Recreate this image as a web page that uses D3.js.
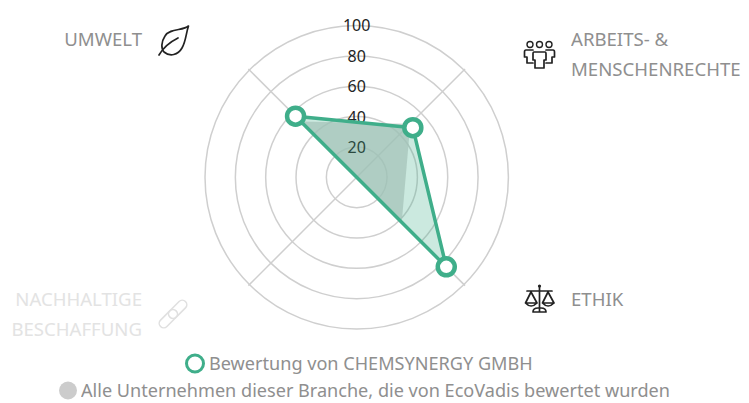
<!DOCTYPE html>
<html><head><meta charset="utf-8">
<script src="https://cdnjs.cloudflare.com/ajax/libs/d3/7.8.5/d3.min.js"></script>
<style>html,body{margin:0;padding:0;background:#fff}svg{display:block}text{font-family:"Noto Sans",sans-serif;opacity:.99}</style>
</head><body><div id="c"></div>
<script>
const categories=["ARBEITS","ETHIK","NACHHALTIGE BESCHAFFUNG","UMWELT"];
const axisAngles=[45,135,225,315];
const companyAngles=[48.5,135,225,315];
const companyValues=[49.4,83.5,0,57];
const industryValues=[50,42,0,52];
const radialTicks=[20,40,60,80,100];
const seriesNames=["Bewertung von CHEMSYNERGY GMBH","Alle Unternehmen dieser Branche, die von EcoVadis bewertet wurden"];
const GREEN="#3fae8a",GRID="#cfcfcf",TXT="#8e8e8e";
const svg=d3.select("#c").append("svg").attr("width",749).attr("height",403);
const g=svg.append("g").attr("transform","translate(356.7,177.3)");
const r=d3.scaleLinear().domain([0,100]).range([0,151.7]);
const rad=d=>d*Math.PI/180;
const pt=(v,a)=>[r(v)*Math.sin(rad(a)),-r(v)*Math.cos(rad(a))];
g.selectAll("circle.grid").data(radialTicks).join("circle").attr("r",d=>r(d)).attr("fill","none").attr("stroke",GRID).attr("stroke-width",1.5);
g.selectAll("line.spoke").data(axisAngles).join("line").attr("x1",0).attr("y1",0)
 .attr("x2",a=>pt(101,a)[0]).attr("y2",a=>pt(101,a)[1]).attr("stroke",GRID).attr("stroke-width",1.5);
const line=d3.line().curve(d3.curveLinearClosed);
g.append("path").attr("d",line(industryValues.map((v,i)=>pt(v,axisAngles[i])))).attr("fill","#ccc").attr("fill-opacity",.75);
g.selectAll("text.tick").data(radialTicks).join("text").attr("text-anchor","middle").attr("x",0)
 .attr("y",d=>-r(d)+(d===100?5.5:6)).attr("font-size",16).attr("fill","#222").text(d=>d);
const cp=companyValues.map((v,i)=>pt(v,companyAngles[i]));
g.append("path").attr("d",line(cp)).attr("fill",GREEN).attr("fill-opacity",.27).attr("stroke",GREEN).attr("stroke-width",3.5).attr("stroke-linejoin","round");
g.selectAll("circle.pt").data(cp.filter((d,i)=>companyValues[i]>0)).join("circle").attr("cx",d=>d[0]).attr("cy",d=>d[1]).attr("r",8.5).attr("fill","#fff").attr("stroke",GREEN).attr("stroke-width",4.5);
// axis labels
const lab=(x,y,t,anchor,fill,fs)=>svg.append("text").attr("x",x).attr("y",y).attr("text-anchor",anchor).attr("font-size",fs||18.6).attr("fill",fill).text(t);
lab(142,46,"UMWELT","end",TXT);
lab(571,46,"ARBEITS- &","start",TXT);
lab(571,76,"MENSCHENRECHTE","start",TXT);
lab(571,306,"ETHIK","start",TXT);
lab(142,306,"NACHHALTIGE","end","#e3e3e3");
lab(142,336,"BESCHAFFUNG","end","#e3e3e3");
// icons
const ic=(d,c)=>svg.append("path").attr("d",d).attr("fill","none").attr("stroke",c||"#222").attr("stroke-width",1.7).attr("stroke-linecap","round").attr("stroke-linejoin","round");
ic("M188.5,26C183,31 170,28 165,36C161,42 161,49 164,52C170,57 178,55 182,48C186,41 186,33 188.5,26ZM159,55C163,48 170,42 178,38");
// people
const cc=(x,y,rr)=>svg.append("circle").attr("cx",x).attr("cy",y).attr("r",rr).attr("fill","none").attr("stroke","#222").attr("stroke-width",1.4);
cc(530,44.5,3);cc(539.5,44.5,3);cc(549,44.5,3);
ic("M534,52H545Q546,52 546,54V60H544V68H535V60H533V54Q533,52 534,52ZM533,50H526Q524.5,50 524.5,52V57H527V63H533M546,50H553Q554.5,50 554.5,52V57H552V63H546");
// scales
ic("M539.5,286V312M527,291H552M533,312H546Q546,308 541,308H538Q533,308 533,312ZM531,292L525.5,303H537ZM525.5,303Q531,309 537,303M548,292L542.5,303H554ZM542.5,303Q548,309 554,303");
svg.append("circle").attr("cx",539.5).attr("cy",286).attr("r",1.6).attr("fill","#222");
// link
[[-6,4.5],[6,-4.5]].forEach(o=>svg.append("rect").attr("x",-11+o[0]*1.1).attr("y",-4.5).attr("width",22).attr("height",9).attr("rx",4.5)
 .attr("transform","translate(173,314) rotate(-45)").attr("fill","none").attr("stroke","#e0e0e0").attr("stroke-width",1.6));
// legend
svg.append("circle").attr("cx",195).attr("cy",363.5).attr("r",8.5).attr("fill","#fff").attr("stroke",GREEN).attr("stroke-width",3);
svg.append("circle").attr("cx",68).attr("cy",390.5).attr("r",9).attr("fill","#ccc");
lab(209,369.5,seriesNames[0],"start",TXT,18.1);
lab(81,396.5,seriesNames[1],"start",TXT,18.1);
</script></body></html>
